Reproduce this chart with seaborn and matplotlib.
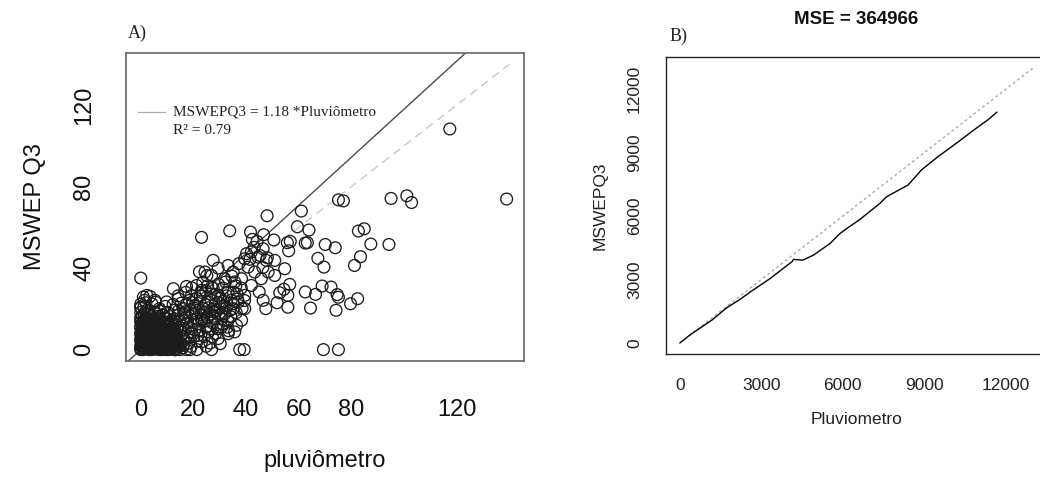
import numpy as np
import pandas as pd
import matplotlib
matplotlib.use("Agg")
import matplotlib.pyplot as plt
import seaborn as sns

# ---- Panel A: daily rainfall, rain gauge vs MSWEP (mm) ----
# sparse points, larger events
high_gauge = [117.4, 139.0, 75.1, 77.0, 95.1, 101.1, 102.9, 61.0, 48.0, 59.5,
              63.9, 63.3, 70.1, 73.9, 82.7, 84.9, 87.4, 94.3, 83.5, 81.2,
              67.3, 69.6, 23.1, 33.8, 41.7, 46.7, 42.4, 50.6, 55.7, 56.8,
              62.5, 56.2, 0.0, 68.9, 72.3, 74.6, 75.1, 82.4, 79.7, 74.2,
              64.5, 62.5, 66.4, 56.6, 55.9, 52.8, 54.4, 51.8, 55.9, 37.6,
              39.3, 69.4, 75.1]
high_mswep = [108.3, 73.9, 73.5, 73.0, 74.2, 75.5, 72.2, 68.0, 65.7, 60.3,
              58.7, 52.5, 51.6, 50.0, 58.2, 59.3, 51.8, 51.6, 45.6, 41.3,
              44.8, 40.5, 55.1, 58.3, 57.7, 56.4, 54.1, 53.8, 52.5, 53.1,
              52.3, 48.5, 35.1, 31.2, 30.7, 27.0, 25.7, 25.0, 22.5, 19.3,
              20.4, 28.3, 27.1, 32.0, 26.6, 27.9, 29.6, 23.0, 20.8, 0.0,
              0.0, 0.0, 0.0]

# moderate events
mid_gauge = [47.5, 46.5, 45.0, 54.7, 50.9, 47.7, 44.6, 39.5, 42.0, 46.5,
             50.9, 48.4, 43.3, 40.8, 38.3, 35.7, 45.8, 42.0, 39.5, 37.0,
             35.1, 39.5, 38.3, 35.7, 36.4, 27.5, 29.4, 24.4, 26.9, 31.9,
             35.1, 33.2, 12.4, 17.4, 21.2, 2.3, 5.4, 0.0, 9.8, 14.3,
             19.3, 23.1, 26.9, 18.7, 26.9, 16.2, 23.1, 29.4, 33.2, 30.7,
             28.2, 24.4, 20.6, 16.8, 12.7, 23.1, 25.6, 19.3, 15.5, 21.8,
             31.9, 29.4, 33.2, 25.6, 28.2, 1.0]
mid_mswep = [20.1, 24.2, 28.3, 39.7, 36.4, 43.8, 45.4, 44.6, 47.9, 49.5,
             43.8, 38.1, 38.1, 40.5, 34.8, 33.2, 34.8, 31.5, 26.6, 23.4,
             20.1, 20.1, 14.4, 8.7, 11.9, 43.8, 40.0, 38.1, 36.4, 34.8,
             38.1, 41.3, 29.9, 31.0, 31.5, 26.6, 24.2, 20.9, 23.4, 25.0,
             26.6, 29.1, 30.7, 0.0, 0.0, 2.1, 3.8, 5.4, 7.8, 11.1,
             15.2, 18.5, 21.7, 18.5, 15.2, 14.4, 8.7, 10.3, 7.0, 7.0,
             21.7, 26.6, 28.3, 23.4, 18.5, 25.8]

# the crowded band between light and moderate rain
band_gauge = [11.2, 13.1, 14.4, 15.3, 16.2, 17.4, 18.1, 19.5, 20.3, 21.2,
              22.4, 22.1, 23.3, 24.5, 25.2, 26.6, 26.1, 27.3, 28.4, 29.2,
              30.3, 30.6, 31.2, 32.5, 33.1, 34.4, 35.2, 36.3, 12.3, 14.2,
              16.5, 18.3, 20.2, 13.4, 11.1, 12.6, 14.8, 16.1, 18.4, 19.2,
              21.5, 23.1, 25.4, 27.2, 29.5, 10.3, 9.2, 8.4, 7.1, 6.5,
              5.2, 4.3, 3.1, 2.2, 1.4, 3.5, 5.6, 15.1, 17.3, 12.2,
              10.4, 8.1, 20.6, 21.3, 24.2, 26.3, 28.1, 32.2, 34.6, 36.1,
              38.2, 39.4, 37.3, 40.2, 41.5, 43.1, 44.2, 45.3, 46.4, 48.1,
              38.5, 36.6, 34.2, 33.4, 31.3, 29.1, 27.5, 25.1, 23.6, 22.3,
              19.4, 17.1,
              13.5, 15.8, 17.2, 18.8, 20.5, 21.8, 22.9, 24.1, 25.8, 26.9,
              27.8, 28.9, 30.1, 31.4, 32.6, 33.8, 35.2, 36.8, 16.9, 18.6,
              14.1, 12.8, 15.4, 19.9, 22.6, 24.7, 26.2, 28.4, 30.8, 32.9,
              11.7, 13.9, 16.3, 17.8, 20.9, 23.8, 25.3, 27.1, 29.7, 31.9,
              9.3, 10.6, 11.9, 14.6, 19.1, 21.3, 13.3, 15.9, 24.9, 30.2]
band_mswep = [16.2, 12.3, 19.1, 9.4, 14.2, 22.3, 11.1, 17.4, 13.2, 25.1,
              9.3, 19.4, 15.2, 22.1, 11.4, 27.2, 17.3, 13.1, 22.4, 10.2,
              25.3, 17.1, 30.2, 20.4, 14.1, 24.3, 28.2, 18.1, 22.2, 26.4,
              5.1, 3.2, 6.3, 4.1, 8.2, 10.4, 14.3, 20.2, 24.1, 8.3,
              4.2, 28.1, 31.3, 6.2, 32.1, 18.3, 21.2, 17.2, 20.1, 16.3,
              18.2, 22.4, 17.1, 19.3, 24.2, 26.1, 23.3, 2.1, 0.0, 1.2,
              0.0, 0.5, 20.3, 15.1, 6.4, 3.2, 27.1, 33.2, 36.1, 31.3,
              30.2, 24.1, 42.2, 47.1, 44.3, 50.2, 53.1, 46.2, 40.3, 45.1,
              20.2, 27.3, 16.1, 9.2, 12.4, 19.2, 30.1, 36.3, 33.1, 38.2,
              30.3, 28.1,
              7.5, 11.5, 15.8, 19.6, 9.8, 12.6, 17.2, 13.8, 20.5, 24.1,
              16.4, 12.3, 20.8, 23.7, 26.4, 19.2, 22.5, 24.8, 9.6, 6.4,
              16.8, 19.3, 22.8, 23.0, 26.3, 28.9, 10.1, 7.8, 14.9, 11.0,
              13.7, 10.4, 17.5, 13.0, 17.9, 20.1, 16.0, 19.7, 23.2, 17.6,
              15.3, 12.5, 5.6, 3.2, 1.5, 0.0, 0.0, 0.8, 1.6, 2.9]

# light rain / dry days crowded near the origin
low_gauge = [0.0, 0.0, 0.5, 1.4, 1.5, 2.7, 3.1, 3.8, 4.6, 5.0,
             6.2, 7.0, 7.5, 8.8, 9.6, 10.2, 11.3, 12.6, 13.8, 15.0,
             0.2, 1.2, 2.3, 3.5, 4.6, 5.9, 7.1, 8.3, 9.6, 11.0,
             12.2, 0.0, 0.8, 1.9, 3.0, 4.2, 5.4, 6.6, 7.8, 9.1,
             10.5, 11.8, 0.4, 1.5, 2.6, 3.9, 5.1, 6.3, 7.6, 8.9,
             10.2, 12.8, 0.0, 0.9, 2.0, 3.3, 4.5, 5.8, 7.0, 8.2,
             9.5, 11.2, 12.5, 0.3, 1.4, 2.7, 4.0, 5.2, 6.5, 7.9,
             9.3, 10.8, 0.0, 0.8, 2.0, 3.2, 4.6, 5.9, 7.3, 8.7,
             10.4, 12.0, 0.5, 1.7, 3.0, 4.4, 5.7, 7.0, 8.6, 9.9,
             0.0, 1.1, 2.4, 3.8, 5.3, 6.8, 9.0, 11.5, 0.0, 0.6,
             2.0, 4.1, 6.2, 8.4, 10.0, 0.0, 1.3, 3.0, 5.6, 7.5,
             0.9, 2.1, 3.4, 4.0, 5.6, 6.8, 8.1, 9.2, 10.8, 11.9, 13.2,
             0.0, 0.7, 1.8, 2.9, 4.1, 5.3, 6.5, 7.7, 8.9, 10.3, 11.6, 13.0, 14.2,
             0.3, 1.4, 2.6, 3.8, 5.0, 6.1, 7.3, 8.5, 9.8, 11.2, 12.6, 14.0,
             0.0, 1.0, 2.2, 3.4, 4.6, 5.8, 7.0, 8.3, 9.7, 11.0, 12.3, 13.6,
             0.6, 1.8, 3.0, 4.2, 5.4, 6.7, 8.0, 9.3, 10.7, 12.0, 13.4,
             0.0, 1.1, 2.3, 3.6, 4.8, 6.0, 7.3, 8.6, 10.0, 11.6, 13.1,
             0.6, 1.8, 3.0, 4.3, 5.6, 6.9, 8.2, 9.6, 11.1, 12.7,
             0.0, 1.2, 2.5, 3.7, 5.0, 6.4, 7.8, 9.3, 11.0,
             0.4, 1.8, 3.3, 4.8, 6.2, 7.6, 10.3,
             0.0, 1.5, 3.2, 5.0, 7.4, 0.0, 0.0, 1.2, 2.0]
low_mswep = [0.0, 0.6, 1.0, 0.3, 1.4, 0.8, 0.0, 1.2, 0.2, 1.5,
             0.6, 0.0, 1.1, 0.4, 0.0, 1.3, 0.2, 0.0, 0.5, 0.0,
             2.5, 3.1, 2.2, 3.4, 2.6, 3.0, 2.1, 3.3, 2.4, 3.0,
             2.0, 4.3, 4.8, 4.0, 4.9, 4.1, 5.0, 4.2, 4.7, 4.0,
             4.8, 4.4, 6.0, 5.6, 6.4, 5.7, 6.5, 5.8, 6.3, 5.5,
             6.2, 6.0, 7.4, 7.8, 7.1, 7.9, 7.2, 7.7, 7.0, 7.8,
             7.3, 7.6, 8.0, 9.0, 8.6, 9.4, 8.7, 9.3, 8.5, 9.2,
             8.8, 9.5, 10.6, 10.1, 10.9, 10.2, 10.8, 10.0, 10.7, 10.3,
             10.9, 10.4, 12.0, 11.6, 12.4, 11.7, 12.3, 11.8, 12.5, 12.0,
             13.4, 14.0, 13.2, 14.3, 13.5, 14.1, 13.6, 14.2, 15.8, 16.6,
             15.3, 16.2, 15.5, 16.8, 15.2, 18.2, 17.6, 18.5, 17.9, 19.0,
             0.0, 0.5, 0.7, 0.0, 0.3, 1.3, 0.0, 0.9, 0.5, 1.0, 0.0,
             1.8, 2.0, 1.7, 2.8, 2.0, 2.4, 1.8, 2.7, 1.9, 2.3, 2.9, 2.5, 1.6,
             3.6, 3.9, 3.5, 3.8, 3.6, 4.0, 3.6, 4.1, 3.7, 4.0, 3.5, 4.2,
             5.2, 5.4, 5.1, 5.3, 5.5, 5.2, 5.4, 5.1, 5.6, 5.3, 5.7, 5.0,
             6.8, 6.6, 6.9, 6.6, 6.9, 6.7, 6.9, 6.6, 6.9, 6.8, 7.0,
             8.2, 8.3, 8.1, 8.4, 8.2, 8.1, 8.4, 8.1, 8.3, 8.6, 8.5,
             9.7, 9.8, 9.6, 9.9, 9.7, 9.8, 9.6, 9.9, 9.8, 10.0,
             11.2, 11.0, 11.3, 11.1, 11.2, 11.1, 11.4, 11.3, 11.6,
             12.8, 12.9, 12.7, 12.9, 12.8, 13.0, 13.1,
             14.9, 15.0, 14.8, 15.2, 14.7, 20.5, 22.3, 21.0, 23.0]

reg_slope = 1.18
reg_r2 = 0.79

ticks_a = [0, 20, 40, 60, 80, 100, 120, 140]
xlabels_a = ["0", "20", "40", "60", "80", "", "120", ""]
ylabels_a = ["0", "", "40", "", "80", "", "120", ""]

# ---- Panel B: accumulated rainfall (mm) ----
cum_gauge = [0, 393, 1190, 1740, 2167, 2658, 3330, 3881, 4127, 4186,
             4531, 4920, 5534, 5901, 6206, 6635, 7369, 7613, 8407, 8898,
             9509, 10184, 10918, 11346, 11677]
cum_mswep = [0, 400, 1090, 1680, 2020, 2470, 3052, 3602, 3839, 3952,
             3919, 4156, 4709, 5183, 5467, 5848, 6606, 6919, 7474, 8185,
             8815, 9450, 10161, 10555, 10919]
mse_value = 364966
ticks_b = [0, 3000, 6000, 9000, 12000]

# ---------------------------------------------------------------
sns.set_style("white")
plt.rcParams["font.family"] = ["Liberation Sans", "DejaVu Sans"]

W, H = 1040, 479
fig = plt.figure(figsize=(W / 100, H / 100), dpi=100)

def box(l, t, r, b):
    return [l / W, 1 - b / H, (r - l) / W, (b - t) / H]

axA = fig.add_axes(box(126, 53, 524, 361))
axB = fig.add_axes(box(665.7, 56.7, 1047, 354))

# ----- Panel A -----
dfA = pd.DataFrame({
    "pluviometro": np.concatenate([low_gauge, band_gauge, mid_gauge, high_gauge]),
    "mswep": np.concatenate([low_mswep, band_mswep, mid_mswep, high_mswep]),
})
sns.scatterplot(data=dfA, x="pluviometro", y="mswep", ax=axA, marker="o",
                s=72, facecolor="none", edgecolor="#1c1c1c", linewidth=0.95,
                legend=False, zorder=3)
axA.axline((0, 0), slope=reg_slope, color="#4a4a4a", lw=1.0, zorder=2)
axA.plot([0, 140], [0, 140], color="#c8c8c8", lw=1.0, ls=(0, (6, 4)), zorder=2)

axA.set_xlim(-5.6, 145.6)
axA.set_ylim(-5.6, 145.6)
axA.set_xticks(ticks_a)
axA.set_xticklabels(xlabels_a)
axA.set_yticks(ticks_a)
axA.set_yticklabels(ylabels_a, rotation=90, va="center")
axA.tick_params(axis="both", direction="out", length=10, width=1.0,
                color="#555555", labelsize=17, labelcolor="#111111")
axA.tick_params(axis="x", pad=17)
axA.tick_params(axis="y", pad=12)
for s in axA.spines.values():
    s.set_color("#666666")
    s.set_linewidth(1.2)
axA.set_xlabel("pluviômetro", fontsize=17, labelpad=21, color="#111111")
axA.set_ylabel("MSWEP Q3", fontsize=17, labelpad=20, color="#111111")

# in-plot legend of the regression
axA.plot([0.031, 0.099], [0.81, 0.81], transform=axA.transAxes,
         color="#aaaaaa", lw=0.9)
axA.text(0.117, 0.81, f"MSWEPQ3 = {reg_slope:.2f} *Pluviômetro",
         transform=axA.transAxes, family="Liberation Serif", fontsize=11,
         va="center", ha="left", color="#222222")
axA.text(0.117, 0.75, f"R² = {reg_r2:.2f}", transform=axA.transAxes,
         family="Liberation Serif", fontsize=11, va="center", ha="left",
         color="#222222")
fig.text(128 / W, 1 - 33 / H, "A)", family="Liberation Serif", fontsize=13,
         va="center", ha="left", color="#222222")

# ----- Panel B -----
dfB = pd.DataFrame({"Pluviometro": cum_gauge, "MSWEPQ3": cum_mswep})
sns.lineplot(data=dfB, x="Pluviometro", y="MSWEPQ3", ax=axB, sort=False,
             estimator=None, color="black", lw=1.0, zorder=3)
axB.plot([0, 13000], [0, 13000], color="#a8a8a8", lw=1.0, ls=(0, (2, 2)),
         zorder=2)
axB.set_xlim(-520, 13520)
axB.set_ylim(-521, 13541)
axB.set_xticks(ticks_b)
axB.set_yticks(ticks_b)
axB.set_yticklabels([str(t) for t in ticks_b], rotation=90, va="center")
axB.tick_params(axis="both", direction="out", length=7, width=1.0,
                color="#222222", labelsize=12.5, labelcolor="#222222")
axB.tick_params(axis="x", pad=10)
axB.tick_params(axis="y", pad=10)
for s in axB.spines.values():
    s.set_color("#222222")
    s.set_linewidth(1.0)
axB.set_xlabel("Pluviometro", fontsize=12.5, labelpad=14, color="#222222")
axB.set_ylabel("MSWEPQ3", fontsize=12.5, labelpad=14, color="#222222")
fig.text(856 / W, 1 - 19 / H, f"MSE = {mse_value}", fontsize=13.5,
         fontweight="bold", ha="center", va="center", color="#111111")
fig.text(670 / W, 1 - 36 / H, "B)", family="Liberation Serif", fontsize=13,
         va="center", ha="left", color="#222222")

fig.savefig("out.png", dpi=100, facecolor="white")
